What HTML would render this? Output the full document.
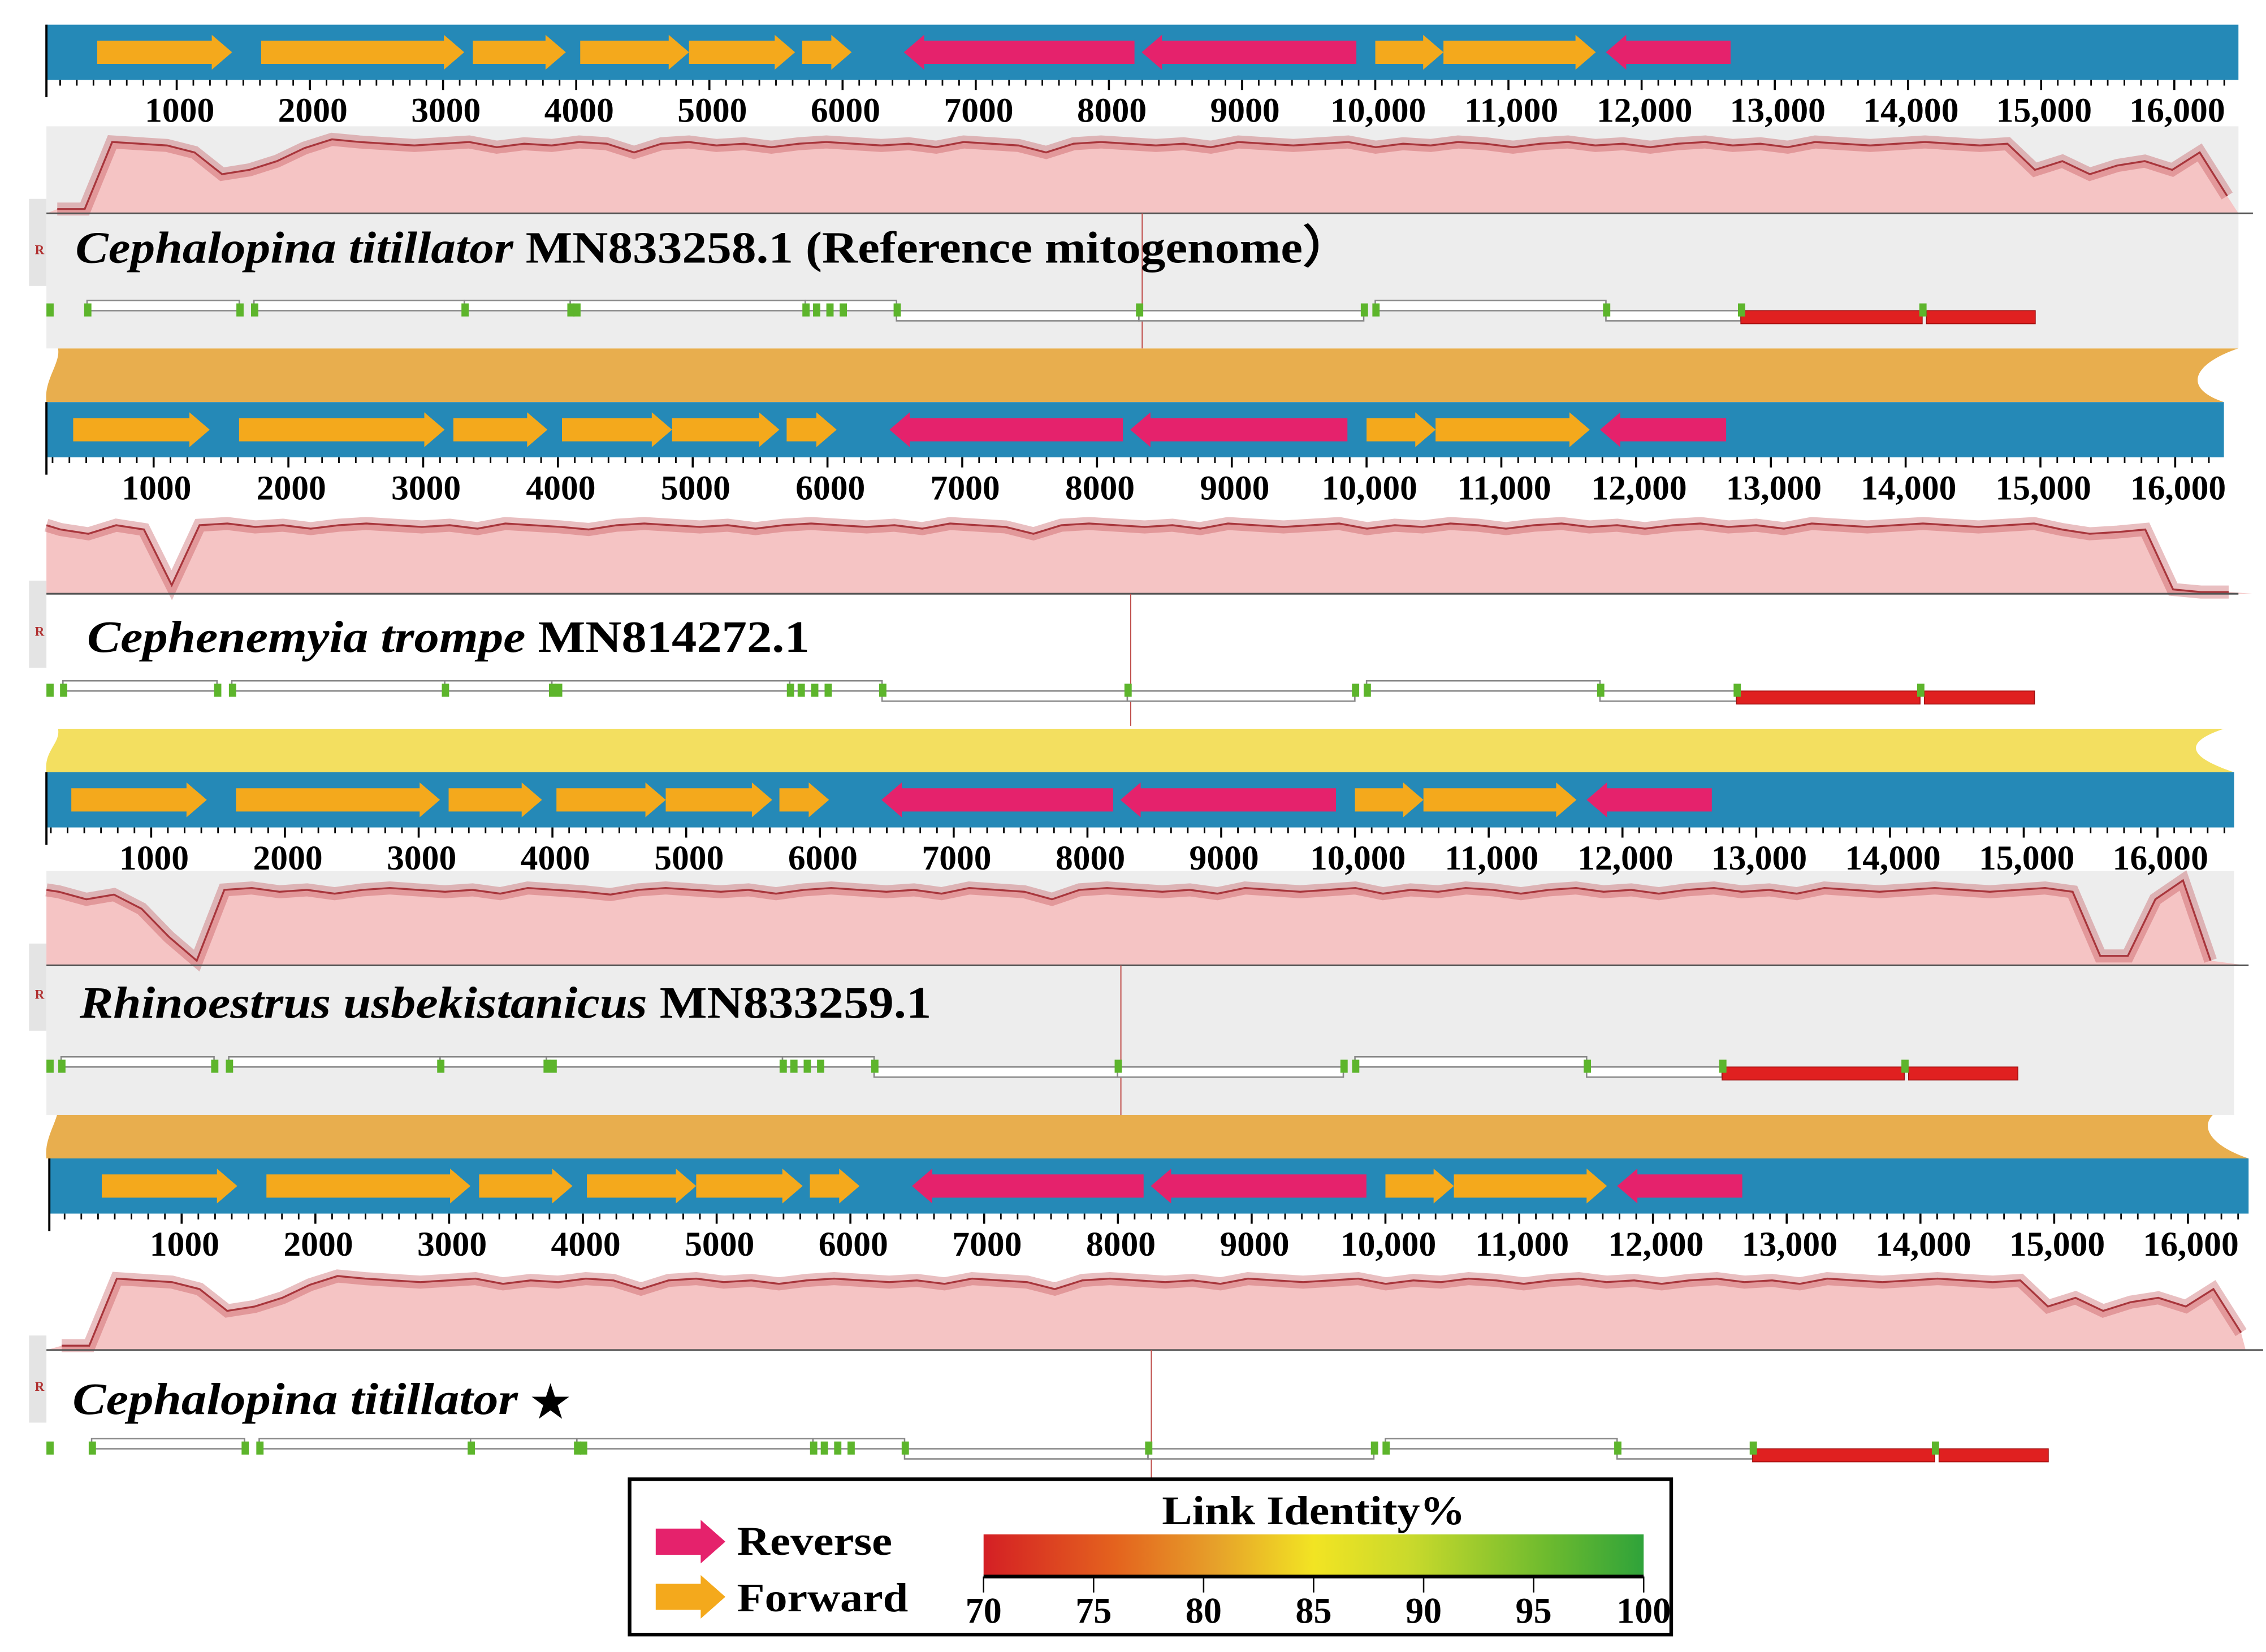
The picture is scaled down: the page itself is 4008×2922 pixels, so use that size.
<!DOCTYPE html>
<html><head><meta charset="utf-8">
<style>
html,body{margin:0;padding:0;background:#fff;}
svg{display:block;}
text{font-family:"Liberation Serif",serif;font-weight:bold;}
</style></head>
<body>
<svg id="chart" xmlns="http://www.w3.org/2000/svg" width="4008" height="2922" viewBox="0 0 1562 1138" preserveAspectRatio="none">
<defs>
<linearGradient id="idgrad" x1="0" x2="1" y1="0" y2="0">
<stop offset="0" stop-color="#d41f24"/><stop offset="0.2" stop-color="#e4631e"/><stop offset="0.35" stop-color="#e6a02a"/><stop offset="0.5" stop-color="#f2e423"/><stop offset="0.65" stop-color="#c8d92c"/><stop offset="0.85" stop-color="#6fbb2e"/><stop offset="1" stop-color="#2fa33a"/>
</linearGradient>
</defs>
<g id="bands"></g>
<g id="panels"></g>
<g id="legend">
<rect x="434" y="1019" width="718" height="107" fill="#fff" stroke="#000" stroke-width="2.5"/>
<polygon points="452,1053 483,1053 483,1047 500,1062 483,1077 483,1071 452,1071" fill="#e5226c"/>
<text x="508" y="1071" font-size="28" textLength="107" lengthAdjust="spacingAndGlyphs">Reverse</text>
<polygon points="452,1091 483,1091 483,1085 500,1100 483,1115 483,1109 452,1109" fill="#f4a91c"/>
<text x="508" y="1110" font-size="28" textLength="118" lengthAdjust="spacingAndGlyphs">Forward</text>
<text x="801" y="1050" font-size="28" textLength="209" lengthAdjust="spacingAndGlyphs">Link Identity%</text>
<rect x="678" y="1057" width="455" height="28" fill="url(#idgrad)"/>
<line x1="678" y1="1086" x2="1133" y2="1086" stroke="#000" stroke-width="2.5"/>
<g id="cbticks"></g>
</g>
</svg>
<script>
const NS="http://www.w3.org/2000/svg";
function el(tag,attrs,parent){const e=document.createElementNS(NS,tag);for(const k in attrs)e.setAttribute(k,attrs[k]);parent.appendChild(e);return e;}

// ---- data ----
const tickLabels=[1000,2000,3000,4000,5000,6000,7000,8000,9000,"10,000","11,000","12,000","13,000","14,000","15,000","16,000"];
const tickValues=[1000,2000,3000,4000,5000,6000,7000,8000,9000,10000,11000,12000,13000,14000,15000,16000];
const geneStarts=[403,1634,3224,4030,4847,5697,6460,8246,10000,10512,11732];
const geneEnds=[1416,3159,3922,4847,5643,6068,8192,9858,10512,11656,12668];
const geneStrand=["F","F","F","F","F","F","R","R","F","F","R"];
const lcbStarts=[327,1580,3160,3955,5720,6405,8225,10000,11732];
const lcbEnds=[1470,3160,3955,5720,6405,8225,9913,11732,12745];
const lcbLevel=["up","up","up","up","up","down","down","up","down"];
const greenMarks=[0,327,1470,1580,3160,3955,4000,5720,5800,5900,6000,6405,8225,9913,10000,11732,12745,14107];
const redStarts=[12745,14139];
const redEnds=[14107,14956];
const identityRef=[0.05,0.05,0.82,0.8,0.78,0.7,0.45,0.5,0.6,0.75,0.85,0.82,0.8,0.78,0.8,0.82,0.76,0.8,0.78,0.82,0.8,0.7,0.8,0.82,0.78,0.8,0.76,0.8,0.82,0.8,0.78,0.8,0.76,0.82,0.8,0.78,0.7,0.8,0.82,0.8,0.78,0.8,0.76,0.82,0.8,0.78,0.8,0.82,0.76,0.8,0.78,0.82,0.8,0.76,0.8,0.82,0.78,0.8,0.76,0.8,0.82,0.78,0.8,0.76,0.82,0.8,0.78,0.8,0.82,0.8,0.78,0.8,0.5,0.6,0.45,0.55,0.6,0.5,0.7,0.2];
const identityP2=[0.8,0.75,0.7,0.8,0.75,0.1,0.8,0.82,0.78,0.8,0.76,0.8,0.82,0.8,0.78,0.8,0.76,0.82,0.8,0.78,0.75,0.8,0.82,0.8,0.78,0.8,0.76,0.8,0.82,0.8,0.78,0.8,0.76,0.82,0.8,0.78,0.7,0.8,0.82,0.8,0.78,0.8,0.76,0.82,0.8,0.78,0.8,0.82,0.76,0.8,0.78,0.82,0.8,0.76,0.8,0.82,0.78,0.8,0.76,0.8,0.82,0.78,0.8,0.76,0.82,0.8,0.78,0.8,0.82,0.8,0.78,0.8,0.82,0.75,0.7,0.72,0.75,0.05,0.02,0.02];
const identityP3=[0.8,0.78,0.7,0.75,0.6,0.3,0.05,0.8,0.82,0.78,0.8,0.76,0.8,0.82,0.8,0.78,0.8,0.76,0.82,0.8,0.78,0.75,0.8,0.82,0.8,0.78,0.8,0.76,0.8,0.82,0.8,0.78,0.8,0.76,0.82,0.8,0.78,0.7,0.8,0.82,0.8,0.78,0.8,0.76,0.82,0.8,0.78,0.8,0.82,0.76,0.8,0.78,0.82,0.8,0.76,0.8,0.82,0.78,0.8,0.76,0.8,0.82,0.78,0.8,0.76,0.82,0.8,0.78,0.8,0.82,0.8,0.78,0.8,0.82,0.78,0.1,0.1,0.7,0.9,0.05];
const speciesItalic=["Cephalopina titillator","Cephenemyia trompe","Rhinoestrus usbekistanicus","Cephalopina titillator"];
const speciesRest=[" MN833258.1 (Reference mitogenome\uFF09"," MN814272.1"," MN833259.1",""];
const cbValues=[70,75,80,85,90,95,100];

// ---- layout ----
const panels=[
 {barY:17,barX0:32,barX1:1543,x0:30,k:0.0918,plotTop:87,plotBot:147,bgBot:240,bg:"#ededed",titleY:181,titleX:52,titleEnd:932,lcbY:214,prof:identityRef,endX:1543},
 {barY:277,barX0:32,barX1:1533,x0:13,k:0.0929,plotTop:350,plotBot:409,bgBot:500,bg:"#ffffff",titleY:449,titleX:60,titleEnd:558,lcbY:476,prof:identityP2,endX:1553},
 {barY:532,barX0:32,barX1:1540,x0:12,k:0.0922,plotTop:600,plotBot:665,bgBot:768,bg:"#ededed",titleY:701,titleX:55,titleEnd:642,lcbY:735,prof:identityP3,endX:1548},
 {barY:798,barX0:34,barX1:1550,x0:33,k:0.0922,plotTop:870,plotBot:930,bgBot:1026,bg:"#ffffff",titleY:974,titleX:50,titleEnd:357,lcbY:998,prof:identityRef,endX:1548}
];

const bandsG=document.getElementById('bands');
const bandDefs=[[240,277,"#e8ae4e",1543,1533],[502,532,"#f3df60",1533,1540],[760,798,"#e8ae4e",1540,1550]];
bandDefs.forEach((b,i)=>{
 const p=el('path',{d:`M40,${b[0]} L${b[3]},${b[0]} C${b[3]-30},${b[0]+10} ${b[4]-30},${b[1]-10} ${b[4]},${b[1]} L32,${b[1]} C30,${b[1]-15} 42,${b[0]+10} 40,${b[0]} Z`,fill:b[2]},bandsG);
 
 
});

const pg=document.getElementById('panels');
panels.forEach((P,pi)=>{
 const g=el('g',{},pg);
 
 
 const X=bp=>P.x0+bp*P.k;
 const bgr=el('rect',{x:32,y:P.plotTop,width:P.barX1-32,height:P.bgBot-P.plotTop,fill:P.bg},g);
 
 
 el('rect',{x:20,y:P.plotTop+50,width:12,height:60,fill:"#e4e4e4"},g);
 el('text',{x:24,y:P.plotTop+88,'font-size':9,fill:"#b03030"},g).textContent="R";
 const bar=el('rect',{x:P.barX0,y:P.barY,width:P.barX1-P.barX0,height:38,fill:"#2589b7"},g);
 
 
 el('line',{x1:P.barX0,y1:P.barY,x2:P.barX0,y2:P.barY+50,stroke:"#000","stroke-width":1.5},g);
 geneStarts.forEach((s,i)=>{
  const a=X(s),b=X(geneEnds[i]),cy=P.barY+19,h=8,hh=12,hw=14;
  let pts;
  if(geneStrand[i]==="F") pts=`${a},${cy-h} ${b-hw},${cy-h} ${b-hw},${cy-hh} ${b},${cy} ${b-hw},${cy+hh} ${b-hw},${cy+h} ${a},${cy+h}`;
  else pts=`${b},${cy-h} ${a+hw},${cy-h} ${a+hw},${cy-hh} ${a},${cy} ${a+hw},${cy+hh} ${a+hw},${cy+h} ${b},${cy+h}`;
  const p=el('polygon',{points:pts,fill:geneStrand[i]==="F"?"#f4a91c":"#e5226c"},g);
  
  
 });
 const ry=P.barY+38;
 for(let bp=0;bp<=16500;bp+=125){const x=X(bp);if(x<P.barX0||x>P.barX1)continue;const maj=bp%1000===0;el('line',{x1:x,y1:ry,x2:x,y2:ry+(maj?7:4),stroke:"#000","stroke-width":maj?1.4:1.1},g);}
 tickValues.forEach((v,i)=>{
  const t=el('text',{x:X(v)+2,y:ry+29,'font-size':24,'text-anchor':'middle'},g);
  
  
  t.textContent=tickLabels[i];
 });
 const n=P.prof.length,step=16500/n,ph=P.plotBot-P.plotTop;
 let d=`M32,${P.plotBot}`;let ln="";
 P.prof.forEach((v,i)=>{const x=Math.max(32,Math.min(X(i*step+step/2),P.endX));const y=P.plotBot-v*ph;d+=` L${x},${y}`;ln+=(i?" L":"M")+x+","+y;});
 d+=` L${P.endX},${P.plotBot} Z`;
 const area=el('path',{d:d,fill:"#f5c4c4"},g);
 
 
 const band=el('path',{d:ln,fill:"none",stroke:"#c0474d","stroke-width":9,"stroke-opacity":0.35},g);
 
 
 const line=el('path',{d:ln,fill:"none",stroke:"#a8363c","stroke-width":1.3},g);
 
 
 el('line',{x1:32,y1:P.plotBot,x2:P.barX1+10,y2:P.plotBot,stroke:"#555","stroke-width":1.2},g);
 el('line',{x1:X(8250),y1:P.plotBot,x2:X(8250),y2:P.bgBot,stroke:"#c0504d","stroke-width":0.8},g);
 const tt=el('text',{x:P.titleX,y:P.titleY,'font-size':31,textLength:P.titleEnd-P.titleX,lengthAdjust:"spacingAndGlyphs"},g);
 
 
 const ts=el('tspan',{'font-style':'italic'},tt);ts.textContent=speciesItalic[pi];
 const ts2=el('tspan',{},tt);ts2.textContent=speciesRest[pi];
 if(pi===3){const st=el('text',{x:366,y:P.titleY+2,'font-size':30},g);st.textContent="\u2605";}
 lcbStarts.forEach((s,i)=>{
  const up=lcbLevel[i]==="up";
  const r=el('rect',{x:X(s),y:up?P.lcbY-7:P.lcbY,width:X(lcbEnds[i])-X(s),height:7,fill:"#fff",stroke:"#888","stroke-width":1},g);
  
  
 });
 redStarts.forEach((s,i)=>{
  const r=el('rect',{x:X(s),y:P.lcbY,width:X(redEnds[i])-X(s),height:9,fill:"#e02020",stroke:"#a01010","stroke-width":0.6},g);
  
  
 });
 greenMarks.forEach(m=>{
  const r=el('rect',{x:Math.max(32,X(m)-2),y:P.lcbY-5,width:5,height:9,fill:"#5db52c"},g);
  
  
 });
});

const cb=document.getElementById('cbticks');
cbValues.forEach(v=>{
 const x=678+(v-70)/30*455;
 el('line',{x1:x,y1:1086,x2:x,y2:1097,stroke:"#000","stroke-width":1},cb);
 const t=el('text',{x:x,y:1118,'font-size':25,'text-anchor':'middle'},cb);
 
 
 t.textContent=v;
});
</script>
</body></html>
